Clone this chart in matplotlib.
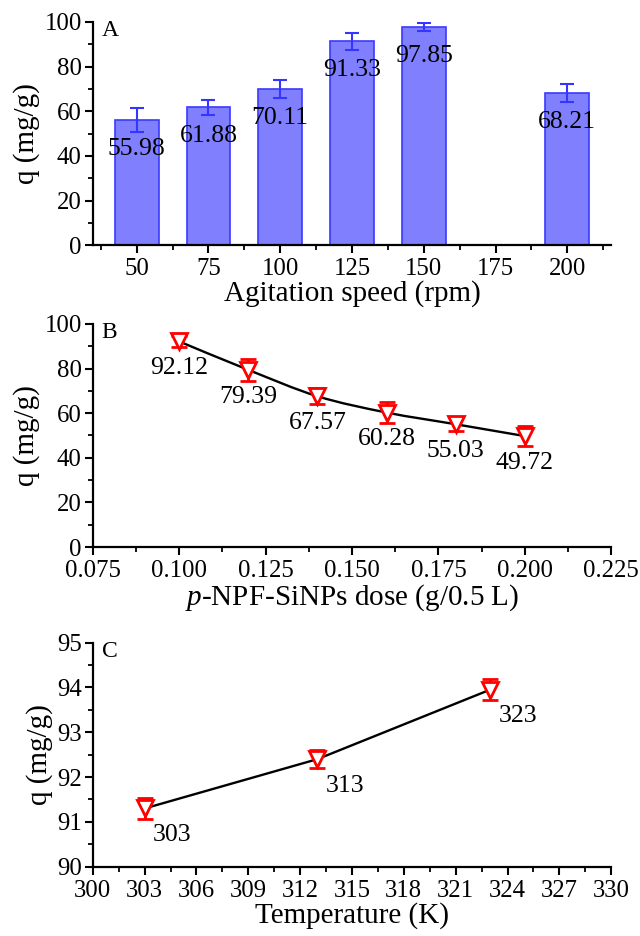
import numpy as np
import matplotlib
matplotlib.use("Agg")
import matplotlib.pyplot as plt
from matplotlib.path import Path
from matplotlib.patches import PathPatch
from matplotlib.ticker import MultipleLocator

plt.rcParams['font.family'] = ['Liberation Serif', 'DejaVu Serif']
plt.rcParams['mathtext.fontset'] = 'custom'
plt.rcParams['mathtext.it'] = 'Liberation Serif:italic'
plt.rcParams['mathtext.rm'] = 'Liberation Serif'

# Panel A: agitation speed
speed = [50, 75, 100, 125, 150, 200]
q_speed = [55.98, 61.88, 70.11, 91.33, 97.85, 68.21]
err_speed = [5.4, 3.4, 4.1, 3.7, 1.9, 4.0]
speed_ticks = [50, 75, 100, 125, 150, 175, 200]

# Panel B: adsorbent dose
dose = [0.100, 0.120, 0.140, 0.160, 0.180, 0.200]
q_dose = [92.12, 79.39, 67.57, 60.28, 55.03, 49.72]
err_dose = [2.6, 4.8, 3.6, 4.8, 3.2, 4.5]

# Panel C: temperature
temp = [303, 313, 323]
q_temp = [91.30, 92.40, 93.95]
err_temp = [0.24, 0.20, 0.23]
temp_labels = ['303', '313', '323']

TICK = 17.8
LAB = 21
VAL = 18.5
LETTER = 17

fig = plt.figure(figsize=(6.4, 9.36), dpi=100)
axA = fig.add_axes([0.145, 0.738, 0.81, 0.2385])
axB = fig.add_axes([0.145, 0.4155, 0.81, 0.2385])
axC = fig.add_axes([0.145, 0.074, 0.81, 0.2395])


def style(ax):
    for s in ['top', 'right']:
        ax.spines[s].set_visible(False)
    for s in ['left', 'bottom']:
        ax.spines[s].set_linewidth(1.6)
    ax.tick_params(which='major', direction='out', length=6, width=1.5,
                   labelsize=TICK, pad=2)
    ax.tick_params(axis='x', which='major', pad=3.5)
    ax.tick_params(which='minor', direction='out', length=3.5, width=1.3)


def smooth_line(ax, x, y):
    # Catmull-Rom curve through the data points, drawn as bezier path
    x = np.asarray(x, float)
    y = np.asarray(y, float)
    verts = [(x[0], y[0])]
    codes = [Path.MOVETO]
    n = len(x)
    for i in range(n - 1):
        p0 = (x[max(i - 1, 0)], y[max(i - 1, 0)])
        p1 = (x[i], y[i])
        p2 = (x[i + 1], y[i + 1])
        p3 = (x[min(i + 2, n - 1)], y[min(i + 2, n - 1)])
        c1 = (p1[0] + (p2[0] - p0[0]) / 6, p1[1] + (p2[1] - p0[1]) / 6)
        c2 = (p2[0] - (p3[0] - p1[0]) / 6, p2[1] - (p3[1] - p1[1]) / 6)
        verts += [c1, c2, p2]
        codes += [Path.CURVE4] * 3
    ax.add_patch(PathPatch(Path(verts, codes), fill=False, lw=1.7,
                           color='black', zorder=2))


# ---- A ----
style(axA)
axA.bar(speed, q_speed, width=15.3, color='#8080ff', edgecolor='#3a3aff',
        linewidth=1.2, zorder=2)
axA.errorbar(speed, q_speed, yerr=err_speed, fmt='none', ecolor='#3535ff',
             elinewidth=1.5, capsize=5, capthick=1.5, zorder=3)
for x, y in zip(speed, q_speed):
    axA.text(x, y - 13, f'{y:.2f}', ha='center', va='center', fontsize=VAL)
axA.set_xlim(34.7, 215.3)
axA.set_ylim(0, 100)
axA.set_xticks(speed_ticks)
axA.xaxis.set_minor_locator(MultipleLocator(12.5))
axA.yaxis.set_major_locator(MultipleLocator(20))
axA.yaxis.set_minor_locator(MultipleLocator(10))
axA.set_xlabel('Agitation speed (rpm)', fontsize=LAB, labelpad=0)
axA.set_ylabel('q (mg/g)', fontsize=LAB, labelpad=3)
axA.text(0.017, 0.96, 'A', transform=axA.transAxes, fontsize=LETTER,
         ha='left', va='center')

# ---- B ----
style(axB)
smooth_line(axB, dose, q_dose)
axB.errorbar(dose, q_dose, yerr=err_dose, fmt='v', ms=11, mfc='white',
             mec='red', mew=2, ecolor='red', elinewidth=2, capsize=6,
             capthick=2, zorder=3)
for x, y in zip(dose, q_dose):
    axB.text(x, y - 12, f'{y:.2f}', ha='center', va='center', fontsize=VAL)
axB.set_xlim(0.075, 0.225)
axB.set_ylim(0, 100)
axB.xaxis.set_major_locator(MultipleLocator(0.025))
axB.xaxis.set_minor_locator(MultipleLocator(0.0125))
axB.xaxis.set_major_formatter(matplotlib.ticker.FormatStrFormatter('%.3f'))
axB.yaxis.set_major_locator(MultipleLocator(20))
axB.yaxis.set_minor_locator(MultipleLocator(10))
axB.set_xlabel('$\\it{p}$-NPF-SiNPs dose (g/0.5 L)', fontsize=LAB, labelpad=0)
axB.set_ylabel('q (mg/g)', fontsize=LAB, labelpad=3)
axB.text(0.017, 0.96, 'B', transform=axB.transAxes, fontsize=LETTER,
         ha='left', va='center')

# ---- C ----
style(axC)
axC.plot(temp, q_temp, color='black', lw=1.7, zorder=2)
axC.errorbar(temp, q_temp, yerr=err_temp, fmt='v', ms=11, mfc='white',
             mec='red', mew=2, ecolor='red', elinewidth=2, capsize=6,
             capthick=2, zorder=3)
for x, y, t in zip(temp, q_temp, temp_labels):
    axC.annotate(t, (x, y), xytext=(6, -19), textcoords='offset points',
                 ha='left', va='center', fontsize=VAL)
axC.set_xlim(300, 330)
axC.set_ylim(90, 95)
axC.xaxis.set_major_locator(MultipleLocator(3))
axC.xaxis.set_minor_locator(MultipleLocator(1.5))
axC.yaxis.set_major_locator(MultipleLocator(1))
axC.yaxis.set_minor_locator(MultipleLocator(0.5))
axC.set_xlabel('Temperature (K)', fontsize=LAB, labelpad=0)
axC.set_ylabel('q (mg/g)', fontsize=LAB, labelpad=3)
axC.text(0.017, 0.96, 'C', transform=axC.transAxes, fontsize=LETTER,
         ha='left', va='center')

fig.savefig('out.png', dpi=100)
